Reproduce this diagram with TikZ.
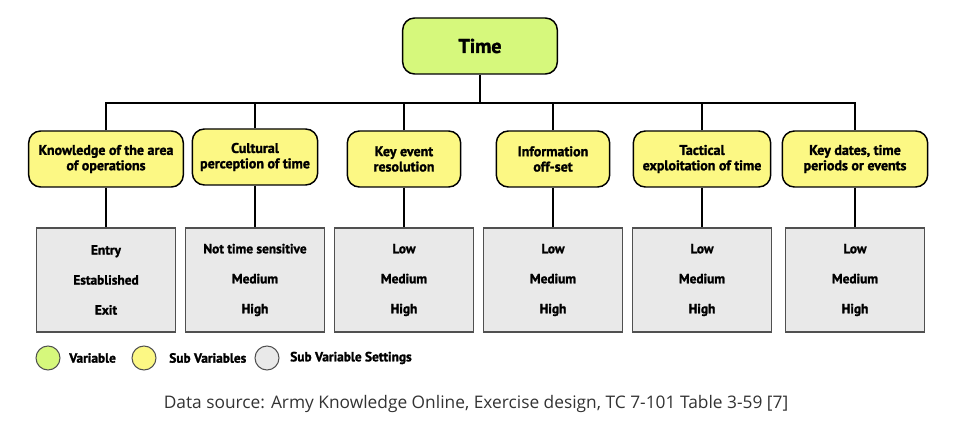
\documentclass[tikz,border=0pt]{standalone}
\usepackage{fontspec}
\setmainfont{PT Sans}[BoldFeatures={FakeBold=1.6}]
\newfontfamily\captionfont{Open Sans}
\usetikzlibrary{positioning}

\definecolor{vargreen}{HTML}{D6F87C}
\definecolor{subyellow}{HTML}{FCF884}
\definecolor{setgrey}{HTML}{E9E9E9}
\definecolor{edgegrey}{HTML}{505050}
\definecolor{captiongrey}{HTML}{333333}

\begin{document}
\begin{tikzpicture}[x=0.75pt, y=-0.75pt,
    varbox/.style={draw, line width=1.1pt, rounded corners=9pt, fill=vargreen,
                   minimum width=116pt, minimum height=42pt,
                   font=\fontsize{15}{17}\selectfont\bfseries},
    subbox/.style={draw, line width=1.1pt, rounded corners=9pt, fill=subyellow,
                   minimum height=42pt, inner xsep=5pt, align=center,
                   font=\fontsize{10.5}{11.5}\selectfont\bfseries},
    setbox/.style={draw=edgegrey, line width=0.8pt, fill=setgrey,
                   minimum width=104pt, minimum height=78pt, align=center,
                   font=\fontsize{10}{22.5}\selectfont\bfseries},
    legdot/.style={circle, draw=edgegrey, line width=0.8pt, minimum size=18pt},
    leglabel/.style={anchor=west, inner sep=0pt, font=\fontsize{10}{11}\selectfont\bfseries},
    link/.style={line width=1.5pt}]
  \useasboundingbox (0,0) rectangle (963,427);

  % Variable
  \node[varbox] (time) at (480, 46) {Time};

  % Sub variables
  \node[subbox, minimum width=116pt] (area)    at (106, 159) {Knowledge of the area\\of operations};
  \node[subbox, minimum width=94pt]  (culture) at (255, 157) {Cultural\\perception of time};
  \node[subbox, minimum width=85pt]  (event)   at (404, 159) {Key event\\resolution};
  \node[subbox, minimum width=85pt]  (offset)  at (553, 159) {Information\\off-set};
  \node[subbox, minimum width=103pt] (tactic)  at (702, 159) {Tactical\\exploitation of time};
  \node[subbox, minimum width=109pt] (dates)   at (855, 159) {Key dates, time\\periods or events};

  % Sub variable settings
  \node[setbox] (areaset)    at (106, 280) {Entry\\Established\\Exit};
  \node[setbox] (cultureset) at (255, 280) {Not time sensitive\\Medium\\High};
  \node[setbox] (eventset)   at (404, 280) {Low\\Medium\\High};
  \node[setbox] (offsetset)  at (553, 280) {Low\\Medium\\High};
  \node[setbox] (tacticset)  at (702, 280) {Low\\Medium\\High};
  \node[setbox] (datesset)   at (855, 280) {Low\\Medium\\High};

  % Tree lines
  \coordinate (bus) at (480, 103);
  \draw[link] (time.south) -- (bus);
  \draw[link] (area.north) |- (bus) -| (dates.north);
  \draw[link] (culture.north) -- (culture.north |- bus);
  \draw[link] (event.north) -- (event.north |- bus);
  \draw[link] (offset.north) -- (offset.north |- bus);
  \draw[link] (tactic.north) -- (tactic.north |- bus);
  \draw[link] (area.south) -- (areaset.north);
  \draw[link] (culture.south) -- (cultureset.north);
  \draw[link] (event.south) -- (eventset.north);
  \draw[link] (offset.south) -- (offsetset.north);
  \draw[link] (tactic.south) -- (tacticset.north);
  \draw[link] (dates.south) -- (datesset.north);

  % Legend
  \node[legdot, fill=vargreen] (legvar) at (48, 358) {};
  \node[leglabel] (legvartext) at (69, 358) {Variable};
  \node[legdot, fill=subyellow] (legsub) at (144, 358) {};
  \node[leglabel] (legsubtext) at (169, 358) {Sub Variables};
  \node[legdot, fill=setgrey] (legset) at (267, 358) {};
  \node[leglabel] (legsettext) at (290, 358) {Sub Variable Settings};

  % Caption
  \node[font=\captionfont\fontsize{13}{15}\selectfont, text=captiongrey]
    (source) at (476, 404) {Data source: Army Knowledge Online, Exercise design, TC 7-101 Table 3-59 [7]};
\end{tikzpicture}
\end{document}
